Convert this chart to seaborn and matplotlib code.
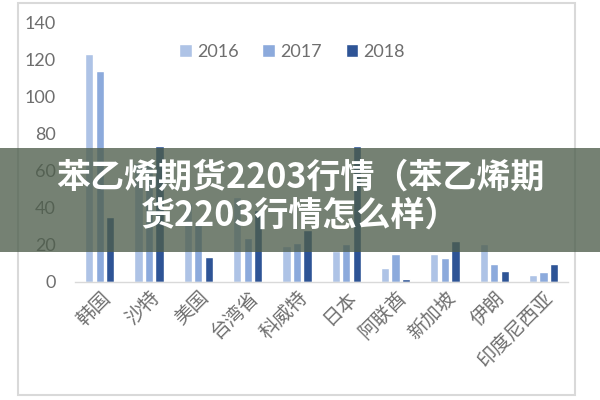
import matplotlib
matplotlib.use("Agg")
import matplotlib.pyplot as plt
import seaborn as sns
import pandas as pd
from matplotlib.patches import Rectangle

categories = ["韩国", "沙特", "美国", "台湾省", "科威特", "日本", "阿联酋", "新加坡", "伊朗", "印度尼西亚"]
years = ["2016", "2017", "2018"]
v2016 = [123, 64, 42.5, 46, 19.5, 16.5, 7.5, 15, 20.5, 3.5]
v2017 = [114, 65, 30.5, 23.5, 21, 20.5, 15, 12.5, 9.3, 5.3]
v2018 = [35, 73.5, 13.5, 39, 28, 73.5, 1.3, 22, 6, 9.3]
yticks = [0, 20, 40, 60, 80, 100, 120, 140]
title_text = "苯乙烯期货2203行情（苯乙烯期\n货2203行情怎么样）"

rows = []
for y, vals in zip(years, [v2016, v2017, v2018]):
    for c, v in zip(categories, vals):
        rows.append({"country": c, "year": y, "value": v})
df = pd.DataFrame(rows)

sns.set_theme(style="white")
plt.rcParams['font.family'] = ['Lato', 'Noto Sans CJK SC', 'DejaVu Sans']

fig = plt.figure(figsize=(6, 4), dpi=100)
ax = fig.add_axes([0.125, 0.296, 0.822, 0.647])
palette = ["#aec3e6", "#8caadc", "#2e5496"]
sns.barplot(data=df, x="country", y="value", hue="year", order=categories,
            hue_order=years, palette=palette, width=0.64, gap=0.22,
            saturation=1, ax=ax, legend=True)

ax.set_ylim(0, 140)
ax.set_yticks(yticks)
ax.set_yticklabels([str(t) for t in yticks], fontsize=13, color="#6e6e6e")
ax.set_xlabel("")
ax.set_ylabel("")
for s in ["top", "right", "left"]:
    ax.spines[s].set_visible(False)
ax.spines["bottom"].set_color("#d9d9d9")
ax.spines["bottom"].set_linewidth(1.0)
ax.tick_params(axis="both", length=0)
ax.tick_params(axis="y", pad=14)
ax.tick_params(axis="x", pad=4)
ax.set_xticks(range(len(categories)))
ax.set_xticklabels(categories, rotation=45, ha="right", rotation_mode="anchor",
                   fontsize=14, color="#707070", family=["Noto Sans CJK SC", "DejaVu Sans"])
ax.grid(False)

handles, labels = ax.get_legend_handles_labels()
ax.get_legend().remove()
fig.legend(handles, labels, loc="center", bbox_to_anchor=(0.487, 0.871), ncol=3,
           frameon=False, fontsize=13, handlelength=0.7, handleheight=0.7,
           handletextpad=0.3, columnspacing=1.3, labelcolor="#6e6e6e")

# outer chart frame
fig.patches.append(Rectangle((18 / 600, 1 - 395 / 400), (575 - 18) / 600, (395 - 3) / 400,
                             transform=fig.transFigure, fill=False,
                             edgecolor="#d9d9d9", linewidth=1.5, zorder=0))

# banner overlay
fig.patches.append(Rectangle((0, 1 - 252 / 400), 1, (252 - 148) / 400,
                             transform=fig.transFigure, facecolor="#4e5e4c",
                             alpha=0.78, edgecolor="none", zorder=5))
fig.text(0.5, 1 - 196 / 400, title_text, ha="center", va="center", color="white",
         fontsize=24.5, fontweight=900, linespacing=1.1,
         family=["Noto Sans CJK SC", "DejaVu Sans"], zorder=6)

fig.savefig("out.png", dpi=100)
